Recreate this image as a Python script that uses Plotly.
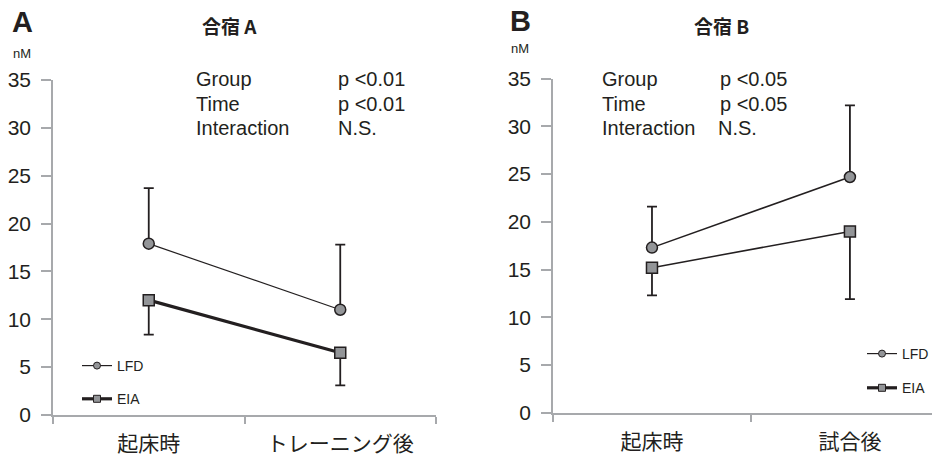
import plotly.graph_objects as go

# ---- data ----
cats_a = ["起床時", "トレーニング後"]
cats_b = ["起床時", "試合後"]
lfd_a = [17.9, 11.0]
lfd_a_err = [5.8, 6.8]
eia_a = [12.0, 6.5]
eia_a_err = [3.6, 3.4]
lfd_b = [17.3, 24.7]
lfd_b_err = [4.3, 7.5]
eia_b = [15.2, 19.0]
eia_b_err = [2.9, 7.1]
y_ticks = [0, 5, 10, 15, 20, 25, 30, 35]
stats_a = [("Group", "p <0.01"), ("Time", "p <0.01"), ("Interaction", "N.S.")]
stats_b = [("Group", "p <0.05"), ("Time", "p <0.05"), ("Interaction", "N.S.")]

FONT = "Liberation Sans, Arial, Noto Sans CJK JP, sans-serif"
JFONT = "Noto Sans CJK JP, Liberation Sans, sans-serif"
TXT = "#231f20"
AX = "#a7a9ac"
MFILL = "#939598"
MLINE = "#231f20"

W, H = 932, 446   # page has an 8px body margin
OFF = 8

def px(x):
    return (x - OFF) / W

def py(y):
    return 1 - (y - OFF) / H

fig = go.Figure()

def add_series(x, y, err, sym, lw, xa, ya, up):
    fig.add_trace(go.Scatter(
        x=x, y=y, mode="lines+markers", xaxis=xa, yaxis=ya, showlegend=False,
        line=dict(color=MLINE, width=lw),
        marker=dict(symbol=sym, size=11, color=MFILL,
                    line=dict(color=MLINE, width=1.5)),
        error_y=dict(type="data", array=err if up else [0] * len(err),
                     arrayminus=[0] * len(err) if up else err,
                     symmetric=False, color=MLINE, thickness=1.8, width=5),
    ))

add_series(cats_a, lfd_a, lfd_a_err, "circle", 1.2, "x", "y", True)
add_series(cats_a, eia_a, eia_a_err, "square", 3.2, "x", "y", False)
add_series(cats_b, lfd_b, lfd_b_err, "circle", 1.5, "x2", "y2", True)
add_series(cats_b, eia_b, eia_b_err, "square", 1.5, "x2", "y2", False)

# legend entries
for lg, xa, ya in (("legend", "x", "y"), ("legend2", "x2", "y2")):
    fig.add_trace(go.Scatter(x=[None], y=[None], name="LFD", mode="lines+markers",
                             xaxis=xa, yaxis=ya, legend=lg, legendgroup=lg + "lfd",
                             line=dict(color=MLINE, width=1.2),
                             marker=dict(symbol="circle", size=7, color=MFILL,
                                         line=dict(color=MLINE, width=1))))
    fig.add_trace(go.Scatter(x=[None], y=[None], name="EIA", mode="lines+markers",
                             xaxis=xa, yaxis=ya, legend=lg, legendgroup=lg + "eia",
                             line=dict(color=MLINE, width=3.2),
                             marker=dict(symbol="square", size=7, color=MFILL,
                                         line=dict(color=MLINE, width=1))))

xcommon = dict(type="category", showline=True, linecolor=AX, linewidth=1.6,
               ticks="outside", tickson="boundaries", ticklen=7, tickcolor=AX,
               tickwidth=1.6, showgrid=False, zeroline=False, automargin=False,
               ticklabelstandoff=9,
               tickfont=dict(family=JFONT, size=21, color=TXT))
ycommon = dict(range=[0, 35], tickvals=y_ticks, showline=True, linecolor=AX,
               linewidth=1.6, ticks="outside", ticklen=10, tickcolor=AX,
               tickwidth=1.6, showgrid=False, zeroline=False, automargin=False,
               ticklabelstandoff=6,
               tickfont=dict(family=FONT, size=21, color=TXT))

legfont = dict(family=FONT, size=14, color=TXT)
fig.update_layout(
    template="none",
    width=W, height=H, margin=dict(l=0, r=0, t=0, b=0, pad=0),
    paper_bgcolor="white", plot_bgcolor="white",
    xaxis=dict(xcommon, domain=[px(53), px(436)], range=[-0.5, 1.5], anchor="y"),
    yaxis=dict(ycommon, domain=[py(415), py(80)], anchor="x"),
    xaxis2=dict(xcommon, domain=[px(553), 1.0], range=[-0.5, 1.455], anchor="y2"),
    yaxis2=dict(ycommon, domain=[py(412.7), py(78.7)], anchor="x2"),
    legend=dict(x=px(77), y=py(350), xanchor="left", yanchor="top",
                bgcolor="rgba(0,0,0,0)", font=legfont,
                tracegroupgap=12, itemwidth=30),
    legend2=dict(x=px(862), y=py(338), xanchor="left", yanchor="top",
                 bgcolor="rgba(0,0,0,0)", font=legfont,
                 tracegroupgap=13, itemwidth=30),
)

ann = []
def txt(x, y, s, size, family=FONT, bold=False, xanchor="left"):
    ann.append(dict(x=px(x), y=py(y), xref="paper", yref="paper",
                    text=("<b>%s</b>" % s) if bold else s,
                    showarrow=False, xanchor=xanchor, yanchor="middle",
                    font=dict(family=family, size=size, color=TXT)))

txt(10, 22, "A", 29, bold=True)
txt(229, 25, "合宿 A", 19, family=JFONT, bold=True, xanchor="center")
txt(11, 54, "nM", 13)
txt(508, 21, "B", 29, bold=True)
txt(721, 25, "合宿 B", 19, family=JFONT, bold=True, xanchor="center")
txt(509, 48, "nM", 13)

for i, (k, v) in enumerate(stats_a):
    txt(194, 79 + i * 24.5, k, 20)
    txt(336, 79 + i * 24.5, v, 20)
for i, (k, v) in enumerate(stats_b):
    txt(600, 79 + i * 24.5, k, 20)
    txt(718 if i < 2 else 716, 79 + i * 24.5, v, 20)

fig.update_layout(annotations=ann)
fig.write_html("out.html")
